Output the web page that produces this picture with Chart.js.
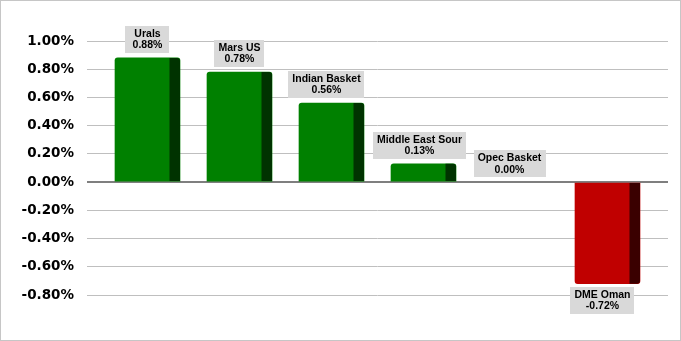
<!DOCTYPE html>
<html>
<head>
<meta charset="utf-8">
<script src="https://cdn.jsdelivr.net/npm/chart.js@4"></script>
<style>
  body { margin: 0; background: #fff; }
  canvas { display: block; }
</style>
</head>
<body>
<canvas id="myChart" width="681" height="341"></canvas>
<script>
var categories = ["Urals", "Mars US", "Indian Basket", "Middle East Sour", "Opec Basket", "DME Oman"];
var changes = [0.88, 0.78, 0.56, 0.13, 0.00, -0.72];
var labelNudge = [0, 0, -5, -4, -6, -5];

function fmt(v) {
  if (Math.abs(v) < 1e-9) v = 0;
  return v.toFixed(2) + '%';
}

// dark right side of each bar, the gray label boxes and the outer frame
var extras = {
  id: 'extras',
  afterDatasetsDraw: function(chart) {
    var ctx = chart.ctx;
    var meta = chart.getDatasetMeta(0);
    meta.data.forEach(function(bar, i) {
      var v = changes[i];
      var right = bar.x + bar.width / 2;
      var top = Math.min(bar.y, bar.base), bottom = Math.max(bar.y, bar.base);
      if (bottom - top > 0.5) {
        ctx.save();
        ctx.fillStyle = v >= 0 ? '#003300' : '#3a0000';
        ctx.beginPath();
        if (v >= 0) ctx.roundRect(right - 10.5, top, 10.5, bottom - top, [0, 3, 0, 0]);
        else ctx.roundRect(right - 10.5, top, 10.5, bottom - top, [0, 0, 3, 0]);
        ctx.fill();
        ctx.restore();
      }
    });
    ctx.save();
    ctx.font = 'bold 10.5px "Liberation Sans", Arial, sans-serif';
    ctx.textAlign = 'center';
    ctx.textBaseline = 'middle';
    meta.data.forEach(function(bar, i) {
      var v = changes[i];
      var l1 = categories[i], l2 = fmt(v);
      var w = Math.max(ctx.measureText(l1).width, ctx.measureText(l2).width) + 8;
      if (w < 44) w = 44;
      var h = 27;
      var cx = bar.x + labelNudge[i];
      var y0 = v >= 0 ? bar.y - 5 - h : bar.y + 3;
      ctx.fillStyle = '#d9d9d9';
      ctx.fillRect(Math.round(cx - w / 2), Math.round(y0), Math.round(w), h);
      ctx.fillStyle = '#000';
      ctx.fillText(l1, cx, y0 + 8);
      ctx.fillText(l2, cx, y0 + 19.5);
    });
    ctx.strokeStyle = '#c6c6c6';
    ctx.lineWidth = 1;
    ctx.strokeRect(0.5, 0.5, chart.width - 1, chart.height - 1);
    ctx.restore();
  }
};

var ctx = document.getElementById("myChart").getContext('2d');
var myChart = new Chart(ctx, {
  type: 'bar',
  plugins: [extras],
  data: {
    labels: categories,
    datasets: [{
      data: changes.map(function(v, i) { return { x: i, y: v }; }),
      backgroundColor: function(c) {
        var v = changes[c.dataIndex];
        if (v === 0) return 'rgba(0,0,0,0)';
        return v > 0 ? '#008000' : '#c00000';
      },
      borderRadius: 3,
      borderSkipped: 'start',
      barThickness: 65
    }]
  },
  options: {
    responsive: false,
    animation: false,
    layout: { padding: { left: 0, right: 13, top: 41, bottom: 46 } },
    plugins: {
      legend: { display: false },
      tooltip: { enabled: false }
    },
    scales: {
      x: {
        type: 'linear',
        offset: false,
        min: -0.6576,
        max: 5.6576,
        display: false
      },
      y: {
        min: -0.8,
        max: 1.0,
        afterFit: function(scale) { scale.width = 87; },
        border: { display: false },
        grid: {
          drawTicks: false,
          color: function(c) { return Math.abs(c.tick.value) < 1e-9 ? '#7f7f7f' : '#bfbfbf'; },
          lineWidth: function(c) { return Math.abs(c.tick.value) < 1e-9 ? 2 : 1; }
        },
        ticks: {
          stepSize: 0.2,
          padding: 13,
          color: '#000',
          font: { family: '"DejaVu Sans", Verdana, sans-serif', size: 13.5, weight: 'bold' },
          callback: function(v) { return fmt(v); }
        }
      }
    }
  }
});
</script>
</body>
</html>
